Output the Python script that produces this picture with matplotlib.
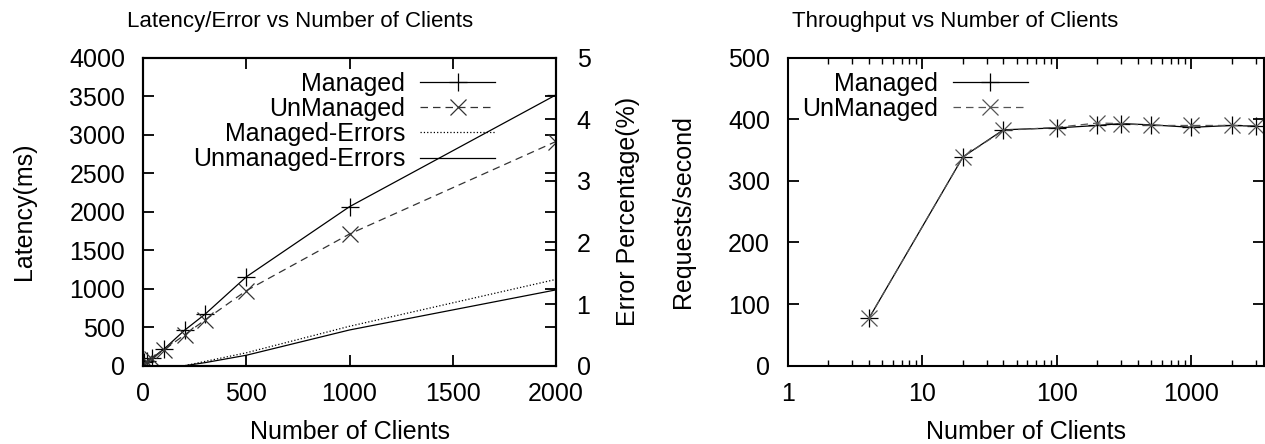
import numpy as np
import matplotlib
matplotlib.use('Agg')
import matplotlib.pyplot as plt

plt.rcParams['font.family'] = ['Liberation Sans', 'DejaVu Sans']

# latency / error data
clients = [4, 20, 40, 100, 200, 300, 500, 1000, 2000]
lat_managed = [45, 55, 95, 215, 460, 670, 1155, 2065, 3515]
lat_unmanaged = [40, 50, 90, 205, 400, 595, 975, 1710, 2910]

err_clients = [200, 300, 500, 1000, 2000]
err_managed = [0.0, 0.07, 0.21, 0.64, 1.40]
err_unmanaged = [0.0, 0.05, 0.17, 0.58, 1.23]

# throughput data
tp_clients = [4, 20, 40, 100, 200, 300, 500, 1000, 2000, 3000]
tp_managed = [77, 339, 383, 386, 390, 393, 391, 387, 390, 389]
tp_unmanaged = [77, 339, 382, 387, 394, 393, 390, 390, 390, 389]

fs = 18
W, H = 1265, 444
fig = plt.figure(figsize=(W / 100, H / 100), dpi=100)

def frac(x0, x1, y0, y1):
    return [x0 / W, 1 - y1 / H, (x1 - x0) / W, (y1 - y0) / H]

legkw = dict(loc='upper right', frameon=False, markerfirst=False, fontsize=fs,
             handlelength=3.0, handletextpad=0.6, labelspacing=0.05,
             borderaxespad=0, borderpad=0)

# ---- left: latency / errors
ax = fig.add_axes(frac(143.3, 555.7, 57.7, 365.7))
ax.plot(clients, lat_managed, '-', color='black', lw=0.9, marker='+', ms=13, mew=0.9, label='Managed')
ax.plot(clients, lat_unmanaged, '--', color='#333333', lw=0.9, marker='x', ms=11, mew=0.9, dashes=(6, 4), label='UnManaged')
ax2 = ax.twinx()
l3, = ax2.plot(err_clients, err_managed, ':', color='black', lw=0.9, label='Managed-Errors')
l4, = ax2.plot(err_clients, err_unmanaged, '-', color='black', lw=0.9, label='Unmanaged-Errors')
ax.set_xlim(0, 2000)
ax.set_ylim(0, 4000)
ax2.set_ylim(0, 5)
ax.set_xticks(np.arange(0, 2001, 500))
ax.set_yticks(np.arange(0, 4001, 500))
ax2.set_yticks(np.arange(0, 6, 1))
ax.tick_params(direction='in', length=8, width=1.3, labelsize=fs, top=True, right=True)
ax.tick_params(axis='x', pad=12)
ax.tick_params(axis='y', pad=13)
ax2.tick_params(direction='in', length=8, width=1.3, labelsize=fs, pad=15)
for a in (ax, ax2):
    for s in a.spines.values():
        s.set_linewidth(1.5)
ax.set_xlabel('Number of Clients', fontsize=fs, labelpad=10)
ax.set_ylabel('Latency(ms)', fontsize=fs, labelpad=24)
ax2.set_ylabel('Error Percentage(%)', fontsize=fs, labelpad=18)
h1, lb1 = ax.get_legend_handles_labels()
ax2.legend(h1 + [l3, l4], lb1 + ['Managed-Errors', 'Unmanaged-Errors'],
           bbox_to_anchor=(0.853, 0.955), **legkw)
fig.text(300 / W, 1 - 21 / H, 'Latency/Error vs Number of Clients', ha='center', va='center', fontsize=16)

# ---- right: throughput
bx = fig.add_axes(frac(788, 1264, 57.7, 365.7))
bx.plot(tp_clients, tp_managed, '-', color='black', lw=0.9, marker='+', ms=13, mew=0.9, label='Managed')
bx.plot(tp_clients, tp_unmanaged, '--', color='#555555', lw=0.9, marker='x', ms=11, mew=0.9, dashes=(6, 4), label='UnManaged')
bx.set_xscale('log')
bx.set_xlim(1, 3460)
bx.set_ylim(0, 500)
bx.set_yticks(np.arange(0, 501, 100))
bx.set_xticks([1, 10, 100, 1000])
bx.set_xticklabels(['1', '10', '100', '1000'])
bx.tick_params(which='major', direction='in', length=8, width=1.3, labelsize=fs, top=True, right=True)
bx.tick_params(axis='x', pad=12)
bx.tick_params(axis='y', pad=13)
bx.tick_params(which='minor', direction='in', length=4, width=1.0, top=True, right=True)
for s in bx.spines.values():
    s.set_linewidth(1.5)
bx.set_xlabel('Number of Clients', fontsize=fs, labelpad=10)
bx.set_ylabel('Requests/second', fontsize=fs, labelpad=24)
bx.legend(bbox_to_anchor=(0.504, 0.955), **legkw)
fig.text(955 / W, 1 - 21 / H, 'Throughput vs Number of Clients', ha='center', va='center', fontsize=16)

fig.savefig('out.png', dpi=100)
